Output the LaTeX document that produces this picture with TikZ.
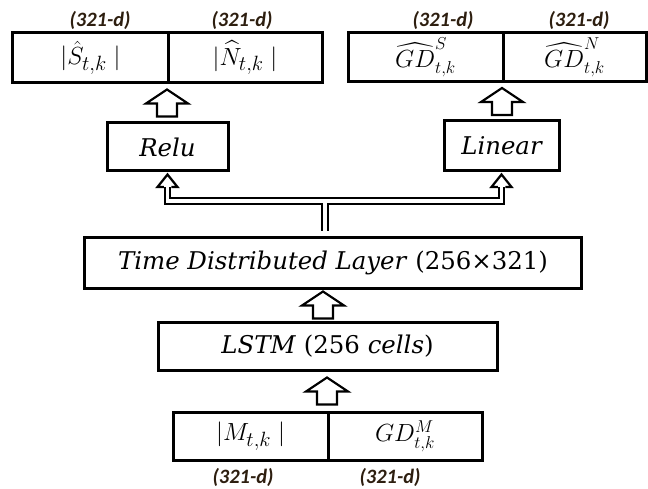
\documentclass[tikz,border=0pt]{standalone}
\usepackage{fontspec}
\usepackage{amsmath}
\usetikzlibrary{calc}
\newfontfamily\lblfont{Carlito}
\newfontfamily\boxfont{DejaVu Serif}
\definecolor{lbl}{RGB}{45,30,15}
\tikzset{
  cell/.style={draw, line width=3bp, inner sep=0pt, font=\fontsize{28}{32}\selectfont},
  gdcell/.style={cell, font=\fontsize{25}{29}\selectfont},
  txtcell/.style={cell, font=\boxfont\fontsize{24.5}{28}\selectfont},
  dimlbl/.style={font=\lblfont\bfseries\itshape\fontsize{20.5}{22}\selectfont, text=lbl, inner sep=0pt},
  blockarrow/.style={draw, line width=2.2bp, fill=white, line join=miter},
  splitline/.style={draw, line width=2.2bp, double=white, double distance=3.5bp},
}
\newcommand\barrow[3]{%
  \coordinate (ba-m) at ($(#1.north)!0.5!(#2.south)$);
  \coordinate (ba-x) at (#3,0);
  \draw[blockarrow] (ba-x |- ba-m) ++(-10,13.5) -- ++(0,-13) -- ++(-11,0) -- ++(21,-14) -- ++(21,14) -- ++(-11,0) -- ++(0,13) -- cycle;
}
\begin{document}
\begin{tikzpicture}[x=1bp,y=-1bp]
\useasboundingbox (0,0) rectangle (648,489);
% top-left output box
\node[cell, minimum width=155bp, minimum height=50bp] (sl) at (90.5,58) {$|\hat{S}_{t,k}\;|$};
\node[cell, minimum width=154bp, minimum height=50bp] (nl) at (245,58) {$|\widehat{N}_{t,k}\;|$};
% top-right output box
\node[gdcell, minimum width=155bp, minimum height=49bp] (gs) at (425.5,57.5) {$\widehat{GD}^{S}_{t,k}$};
\node[gdcell, minimum width=143bp, minimum height=49bp] (gn) at (574.5,57.5) {$\widehat{GD}^{N}_{t,k}$};
% activations
\node[txtcell, minimum width=121bp, minimum height=48bp] (relu) at (167.5,147) {\itshape Relu};
\node[txtcell, minimum width=115bp, minimum height=50bp] (linear) at (501.5,146) {\itshape Linear};
% layers
\node[txtcell, minimum width=496bp, minimum height=50bp] (td) at (333,263) {\textit{Time Distributed Layer} (256×321)};
\node[txtcell, minimum width=339bp, minimum height=48bp] (lstm) at (327.5,346) {\textit{LSTM} (256 \textit{cells})};
% input box
\node[cell, minimum width=155bp, minimum height=48bp] (mag) at (250.5,436) {$|M_{t,k}\;|$};
\node[gdcell, minimum width=154bp, minimum height=48bp] (gm) at (405,436) {$GD^{M}_{t,k}$};
% dimension labels
\node[dimlbl] (d1) at (100,20) {(321-d)};
\node[dimlbl] (d2) at (242,20) {(321-d)};
\node[dimlbl] (d3) at (443,20) {(321-d)};
\node[dimlbl] (d4) at (579,20) {(321-d)};
\node[dimlbl] (d5) at (243,477) {(321-d)};
\node[dimlbl] (d6) at (390,477) {(321-d)};
% block arrows
\barrow{relu}{sl}{167}
\barrow{linear}{gs}{502}
\barrow{lstm}{td}{323}
\barrow{mag}{lstm}{327}
% split arrow
\coordinate (split) at (325,201);
\coordinate (headbase) at (0,187);
\draw[splitline] (relu.south |- headbase) -- (relu.south |- split) -- (linear.south |- split) -- (linear.south |- headbase)
  (split) -- ($(split |- td.north)+(0,-5)$);
\draw[blockarrow] ($(relu.south |- headbase)+(-3.75,0)$) -- ++(-6.25,0) -- ($(relu.south)+(0,2)$) -- ($(relu.south |- headbase)+(10,0)$) -- ++(-6.25,0);
\draw[blockarrow] ($(linear.south |- headbase)+(-3.75,0)$) -- ++(-6.25,0) -- ($(linear.south)+(0,2)$) -- ($(linear.south |- headbase)+(10,0)$) -- ++(-6.25,0);
\end{tikzpicture}
\end{document}
